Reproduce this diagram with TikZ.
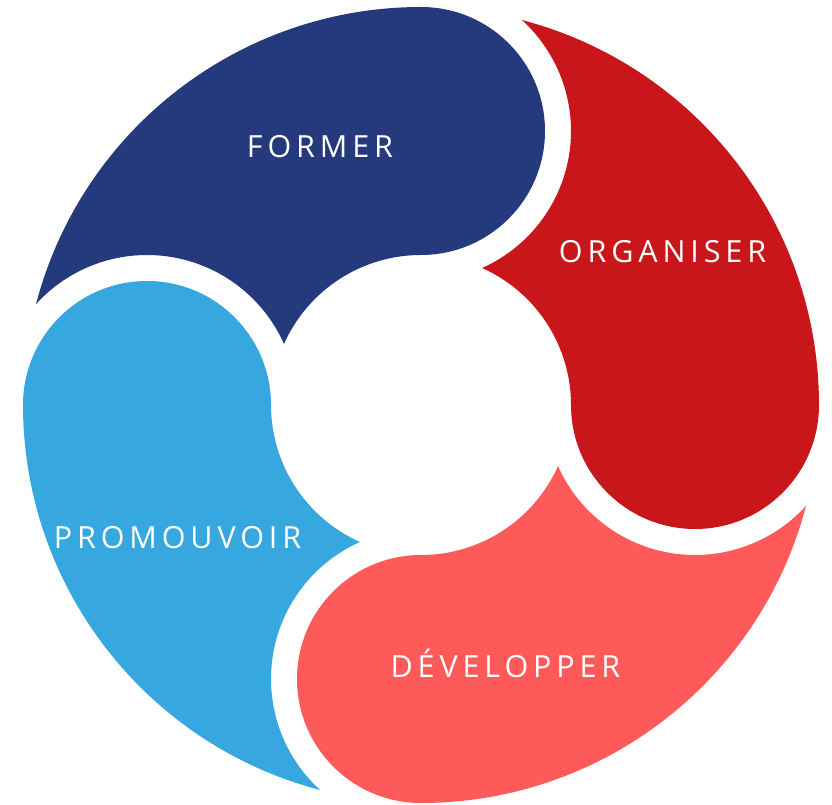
\documentclass[tikz,border=0pt]{standalone}
\usepackage{fontspec}
\newfontfamily\labfont[LetterSpace=16]{Open Sans}
\definecolor{cformer}{HTML}{253A7C}
\definecolor{corganiser}{HTML}{C8161A}
\definecolor{cdevelopper}{HTML}{FF5A5A}
\definecolor{cpromouvoir}{HTML}{36A8DF}
\newcommand\swirlpiece[2]{%
\fill[#2] ({165.32+#1}:398pt) arc[start angle={165.32+#1}, end angle={90+#1}, radius=398pt]
 arc[start angle={90+#1}, end angle={-90+#1}, radius=124pt]
 arc[start angle={90+#1}, end angle={155.97+#1}, radius=150pt]
 arc[start angle={24.03+#1}, end angle={137.73+#1}, radius=150pt] -- cycle;}
\tikzset{lab/.style={text=white, anchor=base, inner sep=0pt, font=\labfont\fontsize{30.5}{36}\selectfont}}
\begin{document}
\begin{tikzpicture}[x=1pt,y=1pt]
\useasboundingbox (-421,-400) rectangle (411,405);
\swirlpiece{0}{cformer}
\swirlpiece{-90}{corganiser}
\swirlpiece{-180}{cdevelopper}
\swirlpiece{90}{cpromouvoir}
\node[lab] (former) at (-101,247) {FORMER};
\node[lab] (organiser) at (241.5,142) {ORGANISER};
\node[lab] (developper) at (84.5,-272) {DÉVELOPPER};
\node[lab] (promouvoir) at (-243.5,-143) {PROMOUVOIR};
\end{tikzpicture}
\end{document}
